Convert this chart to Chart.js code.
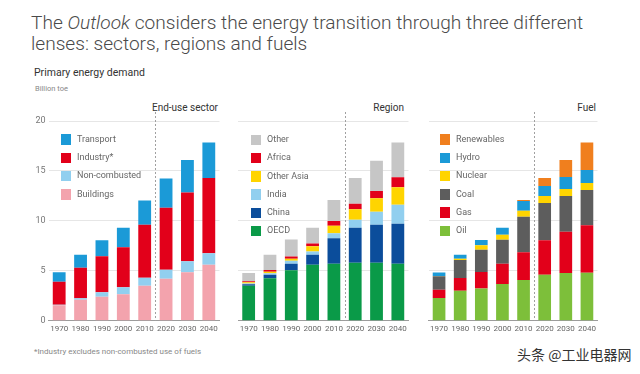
<!DOCTYPE html>
<html>
<head>
<meta charset="utf-8">
<script src="https://cdn.jsdelivr.net/npm/chart.js@4.4.1/dist/chart.umd.min.js"></script>
<style>
  html, body { margin:0; padding:0; background:#fff; }
  #root { position:relative; width:640px; height:374px; overflow:hidden; font-family:"Roboto","Liberation Sans",sans-serif; }
  canvas.c { position:absolute; left:0; top:0; }
  .t { position:absolute; white-space:nowrap; }
  .lg { position:absolute; font-size:9px; color:#666; white-space:nowrap; }
  .lg div { position:relative; height:18.3px; width:120px; }
  .lg span.sw { position:absolute; left:0; top:0; width:10px; height:10.5px; }
  .lg span.tx { position:absolute; left:16px; top:-0.5px; line-height:11px; white-space:nowrap; }
</style>
</head>
<body>
<div id="root">
  <div class="t" style="left:31px;top:12px;font-size:19.1px;font-weight:300;color:#4a4a4a;line-height:21px;">The <i>Outlook</i> considers the energy transition through three different<br>lenses: sectors, regions and fuels</div>
  <div class="t" style="left:34px;top:66px;font-size:10.5px;color:#333;">Primary energy demand</div>
  <div class="t" style="left:35px;top:84px;font-size:7.5px;color:#888;">Billion toe</div>
  <div class="t" style="right:422px;top:102px;font-size:10px;color:#333;">End-use sector</div>
  <div class="t" style="right:236px;top:102px;font-size:10px;color:#333;">Region</div>
  <div class="t" style="right:44px;top:102px;font-size:10px;color:#333;">Fuel</div>
  <div class="t" style="left:34px;top:347px;font-size:8px;color:#888;">*Industry excludes non-combusted use of fuels</div>
  <div class="t" style="left:517px;top:344px;font-size:14px;color:#333;font-family:'Noto Sans CJK SC',sans-serif;">头条 @工业电器网</div>
  <canvas class="c" id="c1" width="640" height="374"></canvas>
  <canvas class="c" id="c2" width="640" height="374"></canvas>
  <canvas class="c" id="c3" width="640" height="374"></canvas>
  <div class="lg" id="lg1" style="left:61px;top:134.3px;"></div>
  <div class="lg" id="lg2" style="left:251px;top:134.5px;"></div>
  <div class="lg" id="lg3" style="left:440px;top:134.3px;"></div>
</div>
<script>
const years = ['1970','1980','1990','2000','2010','2020','2030','2040'];
const yTicks = [0, 5, 10, 15, 20];

// End-use sector (bottom to top)
const sectorNames = ['Buildings', 'Non-combusted', 'Industry*', 'Transport'];
const buildings    = [1.55, 2.10, 2.40, 2.65, 3.50, 4.20, 4.85, 5.60];
const nonCombusted = [0.05, 0.15, 0.45, 0.70, 0.80, 0.90, 1.10, 1.15];
const industry     = [2.30, 3.05, 3.60, 4.00, 5.30, 6.20, 6.90, 7.55];
const transport    = [0.95, 1.30, 1.60, 1.95, 2.45, 2.95, 3.25, 3.55];

// Region (bottom to top)
const regionNames = ['OECD', 'China', 'India', 'Other Asia', 'Africa', 'Other'];
const oecd      = [3.50, 4.25, 5.05, 5.60, 5.70, 5.80, 5.80, 5.70];
const china     = [0.15, 0.35, 0.65, 1.00, 2.55, 3.50, 3.80, 4.00];
const india     = [0.07, 0.15, 0.30, 0.32, 0.50, 0.80, 1.30, 1.90];
const otherAsia = [0.13, 0.16, 0.20, 0.53, 0.77, 1.07, 1.36, 1.77];
const africa    = [0.10, 0.17, 0.22, 0.27, 0.47, 0.55, 0.74, 1.00];
const other     = [0.83, 1.53, 1.72, 1.60, 2.10, 2.57, 3.03, 3.47];

// Fuel (bottom to top)
const fuelNames = ['Oil', 'Gas', 'Coal', 'Nuclear', 'Hydro', 'Renewables'];
const oil        = [2.27, 3.00, 3.22, 3.67, 4.08, 4.60, 4.77, 4.80];
const gas        = [0.83, 1.27, 1.66, 2.03, 2.77, 3.45, 4.13, 4.75];
const coal       = [1.35, 1.81, 2.22, 2.40, 3.55, 3.75, 3.60, 3.55];
const nuclear    = [0.02, 0.12, 0.45, 0.50, 0.60, 0.70, 0.70, 0.70];
const hydro      = [0.35, 0.40, 0.53, 0.70, 1.00, 1.00, 1.20, 1.30];
const renewables = [0.00, 0.00, 0.00, 0.00, 0.10, 0.80, 1.70, 2.75];

const C = {
  blue:'#1b9ad7', red:'#e2001a', light:'#91cfef', pink:'#f3a3ad',
  grey:'#c6c6c6', yellow:'#ffd400', navy:'#0b4d9b', green:'#0a9a48',
  orange:'#f07f1e', dark:'#5d5d5d', lime:'#7dbf3a'
};

const dashPlugin = {
  id:'dash',
  afterDatasetsDraw(chart){
    const x = chart.scales.x, a = chart.chartArea, ctx = chart.ctx;
    const px = (x.getPixelForValue(4) + x.getPixelForValue(5)) / 2;
    ctx.save();
    ctx.strokeStyle = '#a0a0a0'; ctx.lineWidth = 1; ctx.setLineDash([2,2]);
    ctx.beginPath(); ctx.moveTo(Math.round(px)+0.5, 112); ctx.lineTo(Math.round(px)+0.5, a.bottom); ctx.stroke();
    ctx.restore();
  }
};

function makeChart(id, names, series, colors, padL, padR, yWidth, showY){
  const datasets = names.map((n,i)=>({
    label:n, data:series[i], backgroundColor:colors[i], borderWidth:0,
    barPercentage:0.6, categoryPercentage:1.0
  }));
  return new Chart(document.getElementById(id), {
    type:'bar',
    data:{ labels:years, datasets },
    plugins:[dashPlugin],
    options:{
      responsive:false, animation:false, devicePixelRatio:1,
      layout:{ padding:{ left:padL, right:padR, top:121, bottom:37.3 } },
      plugins:{ legend:{display:false}, tooltip:{enabled:false}, title:{display:false} },
      scales:{
        x:{
          stacked:true,
          grid:{ display:false, drawTicks:false },
          border:{ display:true, color:'#9c9c9c', width:1 },
          ticks:{ font:{ size:8, family:'Roboto' }, color:'#666', padding:3, autoSkip:false, maxRotation:0 },
          afterFit(s){ s.height = 16; }
        },
        y:{
          stacked:true, min:0, max:20,
          afterBuildTicks(s){ s.ticks = yTicks.map(v=>({value:v})); },
          grid:{ color:'#e6e6e6', lineWidth:1, drawTicks:false },
          border:{ display:false },
          ticks:{ display:showY, font:{ size:9, family:'Roboto' }, color:'#777', padding:3 },
          afterFit(s){ s.width = yWidth; }
        }
      }
    }
  });
}

makeChart('c1', sectorNames, [buildings, nonCombusted, industry, transport],
  [C.pink, C.light, C.red, C.blue], 0, 420.5, 48.5, true);
makeChart('c2', regionNames, [oecd, china, india, otherAsia, africa, other],
  [C.green, C.navy, C.light, C.yellow, C.red, C.grey], 238, 231.5, 0, false);
makeChart('c3', fuelNames, [oil, gas, coal, nuclear, hydro, renewables],
  [C.lime, C.red, C.dark, C.yellow, C.blue, C.orange], 428.5, 42.5, 0, false);

function legend(id, names, colors){
  const el = document.getElementById(id);
  for (let i = names.length-1; i >= 0; i--){
    const d = document.createElement('div');
    d.innerHTML = '<span class="sw" style="background:'+colors[i]+'"></span><span class="tx">'+names[i]+'</span>';
    el.appendChild(d);
  }
}
legend('lg1', sectorNames, [C.pink, C.light, C.red, C.blue]);
legend('lg2', regionNames, [C.green, C.navy, C.light, C.yellow, C.red, C.grey]);
legend('lg3', fuelNames, [C.lime, C.red, C.dark, C.yellow, C.blue, C.orange]);
</script>
</body>
</html>
